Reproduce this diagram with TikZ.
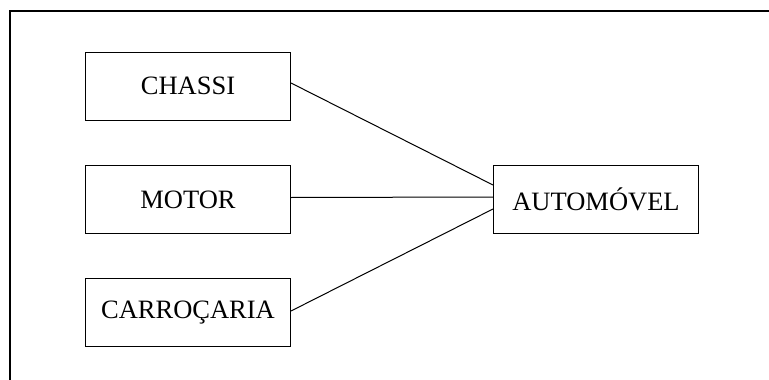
\documentclass[tikz,border=0pt]{standalone}
\usepackage{fontspec}
\setmainfont{Liberation Serif}
\usetikzlibrary{calc}
\begin{document}
\begin{tikzpicture}[x=1pt,y=-1pt,
  part/.style={draw=black,line width=1pt,minimum width=205pt,minimum height=68pt,
    inner sep=0pt,font=\fontsize{26.5}{30}\selectfont},
  link/.style={draw=black,line width=1pt}]
\useasboundingbox (0,0) rectangle (769,380);
% open frame: top and left edges only
\draw[line width=2pt] (10,380) -- (10,11) -- (769,11);
% component boxes
\node[part] (chassi) at (188,86) {CHASSI};
\node[part] (motor) at (188,199.5) {MOTOR};
\node[part] (carro) at (188,312.5) {CARROÇARIA};
\node[part] (auto) at (596,199) {AUTOMÓVEL};
% attachment points on the assembly's left side
\coordinate (a1) at ($(auto.west)+(0,-14)$);
\coordinate (a2) at ($(auto.west)+(0,-2)$);
\coordinate (a3) at ($(auto.west)+(0,10)$);
\draw[link] ($(chassi.east)+(0,-3)$) -- (a1);
\draw[link] ($(motor.east)+(0,-2)$) -- (a2);
\draw[link] ($(carro.east)+(0,-1.5)$) -- (a3);
\end{tikzpicture}
\end{document}
